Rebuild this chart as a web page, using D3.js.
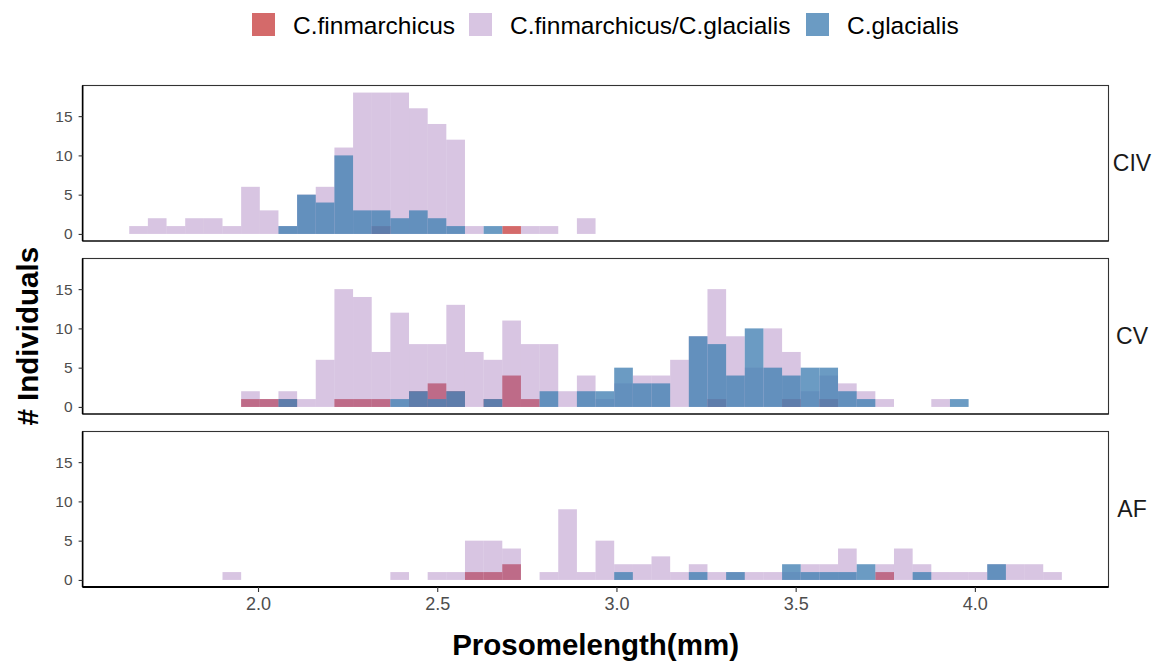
<!DOCTYPE html>
<html>
<head>
<meta charset="utf-8">
<script src="https://cdn.jsdelivr.net/npm/d3@7"></script>
<style>
  body { margin: 0; background: #fff; }
  text { font-family: 'Liberation Sans', Arial, sans-serif; }
</style>
</head>
<body>
<script>
// histogram bins: 50 bins starting at binStart, each binWidth mm wide
const binStart = 1.6407;
const binWidth = 0.05204;

const stages = ['CIV', 'CV', 'AF'];
const species = ['C.finmarchicus', 'C.finmarchicus/C.glacialis', 'C.glacialis'];

// counts per bin (index 0..49)
const civFin = [0,0,0,0,0, 0,0,0,0,0, 0,0,0,1,0, 0,0,0,0,0, 1,0,0,0,0, 0,0,0,0,0, 0,0,0,0,0, 0,0,0,0,0, 0,0,0,0,0, 0,0,0,0,0];
const civMix = [1,2,1,2,2, 1,6,3,1,5, 6,11,18,18,18, 16,14,12,1,0, 0,1,1,0,2, 0,0,0,0,0, 0,0,0,0,0, 0,0,0,0,0, 0,0,0,0,0, 0,0,0,0,0];
const civGla = [0,0,0,0,0, 0,0,0,1,5, 4,10,3,3,2, 3,2,1,0,1, 0,0,0,0,0, 0,0,0,0,0, 0,0,0,0,0, 0,0,0,0,0, 0,0,0,0,0, 0,0,0,0,0];

const cvFin = [0,0,0,0,0, 0,1,1,1,0, 0,1,1,1,0, 2,3,2,0,1, 4,1,0,0,0, 0,0,0,0,0, 0,1,0,0,0, 1,0,1,0,0, 0,0,0,0,0, 0,0,0,0,0];
const cvMix = [0,0,0,0,0, 0,2,1,2,1, 6,15,14,7,12, 8,8,13,7,6, 11,8,8,2,4, 1,3,4,4,6, 9,15,9,5,10, 7,2,4,3,2, 1,0,0,1,0, 0,0,0,0,0];
const cvGla = [0,0,0,0,0, 0,0,0,1,0, 0,0,0,0,1, 2,1,2,0,1, 0,0,2,0,2, 2,5,3,3,0, 9,8,4,10,5, 4,5,5,2,1, 0,0,0,0,1, 0,0,0,0,0];

const afFin = [0,0,0,0,0, 0,0,0,0,0, 0,0,0,0,0, 0,0,0,1,1, 2,0,0,0,0, 0,0,0,0,0, 0,0,0,0,0, 0,0,0,0,0, 1,0,0,0,0, 0,0,0,0,0];
const afMix = [0,0,0,0,0, 1,0,0,0,0, 0,0,0,0,1, 0,1,1,5,5, 4,0,1,9,1, 5,2,2,3,1, 2,1,1,1,1, 1,2,2,4,0, 2,4,2,1,1, 1,2,2,2,1];
const afGla = [0,0,0,0,0, 0,0,0,0,0, 0,0,0,0,0, 0,0,0,0,0, 0,0,0,0,0, 0,1,0,0,0, 1,0,1,0,0, 2,1,1,1,2, 0,0,1,0,0, 0,2,0,0,0];

const counts = {
  CIV: [civFin, civMix, civGla],
  CV: [cvFin, cvMix, cvGla],
  AF: [afFin, afMix, afGla],
};

const xTicks = [2.0, 2.5, 3.0, 3.5, 4.0];
const yTicks = [0, 5, 10, 15];

const fills = ['#c94545', '#9d6eb6', '#4682b4'];
const alphas = [0.8, 0.4, 0.8];

const width = 1172;
const height = 662;
const panelLeft = 82.6;
const panelRight = 1108.5;
const panelTops = [85.5, 258.5, 431.5];
const panelH = 155.5;

const svg = d3.select('body').append('svg')
  .attr('width', width)
  .attr('height', height);

const binEnd = binStart + 50 * binWidth;
const pad = (binEnd - binStart) * 0.05;
const x = d3.scaleLinear()
  .domain([binStart - pad, binEnd + pad])
  .range([panelLeft, panelRight]);

const yMax = 18;
stages.forEach((stage, si) => {
  const top = panelTops[si];
  const y = d3.scaleLinear()
    .domain([-yMax * 0.05, yMax * 1.05])
    .range([top + panelH, top]);

  const g = svg.append('g');

  counts[stage].forEach((arr, k) => {
    const bins = arr.map((c, i) => ({i, c})).filter((d) => d.c > 0);
    g.selectAll(null)
      .data(bins)
      .join('rect')
      .attr('x', (d) => x(binStart + d.i * binWidth))
      .attr('width', (d) => x(binStart + (d.i + 1) * binWidth) - x(binStart + d.i * binWidth))
      .attr('y', (d) => y(d.c))
      .attr('height', (d) => y(0) - y(d.c))
      .attr('fill', fills[k])
      .attr('fill-opacity', alphas[k]);
  });

  // panel border
  g.append('rect')
    .attr('x', panelLeft)
    .attr('y', top)
    .attr('width', panelRight - panelLeft)
    .attr('height', panelH)
    .attr('fill', 'none')
    .attr('stroke', '#333')
    .attr('stroke-width', 1.1);

  // axis lines (classic theme)
  g.append('line')
    .attr('x1', panelLeft).attr('x2', panelLeft)
    .attr('y1', top).attr('y2', top + panelH)
    .attr('stroke', '#000').attr('stroke-width', 1.6);
  g.append('line')
    .attr('x1', panelLeft).attr('x2', panelRight)
    .attr('y1', top + panelH).attr('y2', top + panelH)
    .attr('stroke', '#000').attr('stroke-width', si === 2 ? 1.8 : 1.2);

  const yAxis = g.append('g')
    .attr('transform', `translate(${panelLeft},0)`)
    .call(d3.axisLeft(y).tickValues(yTicks).tickSize(4).tickPadding(6));
  yAxis.select('.domain').remove();
  yAxis.selectAll('line').attr('stroke', '#333').attr('stroke-width', 1.1);
  yAxis.selectAll('text')
    .style('font-family', "'Liberation Sans', Arial, sans-serif")
    .style('font-size', '15.5px')
    .attr('fill', '#4d4d4d');

  // strip label on the right
  g.append('text')
    .attr('x', 1132)
    .attr('y', top + panelH / 2)
    .attr('text-anchor', 'middle')
    .attr('dominant-baseline', 'central')
    .style('font-size', '23px')
    .attr('fill', '#1a1a1a')
    .text(stage);

  if (si === 2) {
    const xAxis = g.append('g')
      .attr('transform', `translate(0,${top + panelH})`)
      .call(d3.axisBottom(x).tickValues(xTicks).tickFormat(d3.format('.1f')).tickSize(5).tickPadding(5));
    xAxis.select('.domain').remove();
    xAxis.selectAll('line').attr('stroke', '#333').attr('stroke-width', 1.1);
    xAxis.selectAll('text')
      .style('font-family', "'Liberation Sans', Arial, sans-serif")
      .style('font-size', '18px')
      .attr('fill', '#4d4d4d');
  }
});

// axis titles
svg.append('text')
  .attr('x', (panelLeft + panelRight) / 2)
  .attr('y', 655)
  .attr('text-anchor', 'middle')
  .style('font-size', '29.5px')
  .style('font-weight', 'bold')
  .text('Prosomelength(mm)');

svg.append('text')
  .attr('transform', `translate(38,${(panelTops[0] + panelTops[2] + panelH) / 2}) rotate(-90)`)
  .attr('text-anchor', 'middle')
  .style('font-size', '29.5px')
  .style('font-weight', 'bold')
  .text('# Individuals');

// legend
const legendX = [252, 469, 806];
const legend = svg.append('g');
species.forEach((name, k) => {
  legend.append('rect')
    .attr('x', legendX[k])
    .attr('y', 13)
    .attr('width', 23)
    .attr('height', 23)
    .attr('fill', fills[k])
    .attr('fill-opacity', alphas[k]);
  legend.append('text')
    .attr('x', legendX[k] + 41)
    .attr('y', 25)
    .attr('dominant-baseline', 'central')
    .style('font-size', '24.5px')
    .attr('fill', '#000')
    .text(name);
});
</script>
</body>
</html>
